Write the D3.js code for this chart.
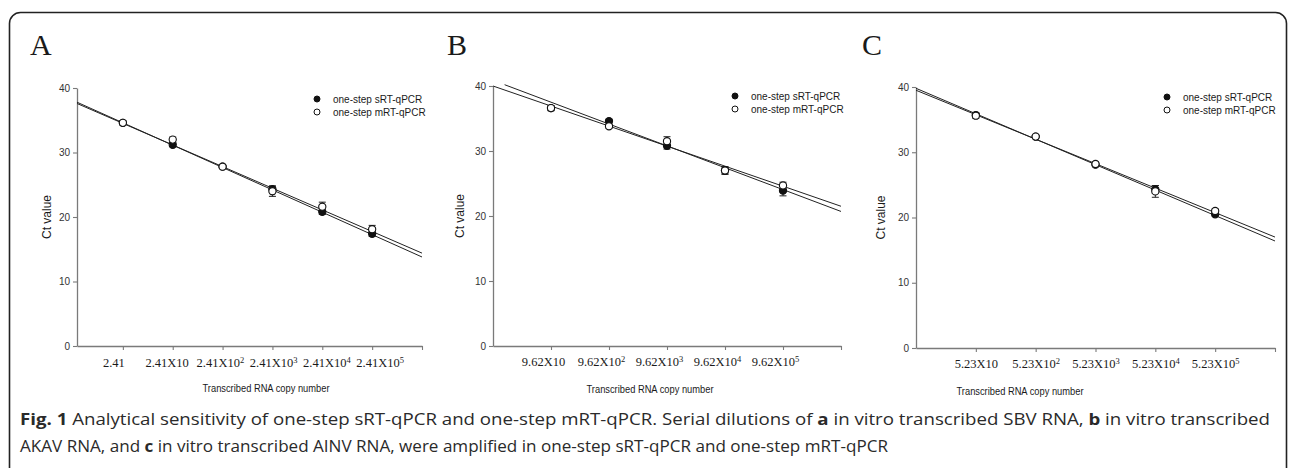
<!DOCTYPE html>
<html>
<head>
<meta charset="utf-8">
<script src="https://cdn.jsdelivr.net/npm/d3@7"></script>
<style>
  body { margin: 0; background: #fff; }
  svg { display: block; }
</style>
</head>
<body>
<svg id="fig" width="1290" height="468"></svg>
<script>
// ----------------------------------------------------------
// Data
// ----------------------------------------------------------

const legendLabels = ['one-step sRT-qPCR', 'one-step mRT-qPCR'];
const yTicks = [0, 10, 20, 30, 40];

// A – SBV RNA
const xLabelsA = ['2.41', '2.41X10', '2.41X10^2', '2.41X10^3', '2.41X10^4', '2.41X10^5'];
const sRtA = [34.6, 31.2, 27.8, 24.3, 20.8, 17.4];
const sRtErrA = [0.3, 0.3, 0.2, 0.5, 0.4, 0.4];
const mRtA = [34.6, 32.0, 27.8, 24.0, 21.6, 18.1];
const mRtErrA = [0.3, 0.4, 0.2, 0.8, 0.7, 0.6];
const sRtFitA = [[0.08, 37.8], [7, 13.8]];
const mRtFitA = [[0.08, 37.6], [7, 14.4]];

// B – AKAV RNA
const xLabelsB = ['9.62X10', '9.62X10^2', '9.62X10^3', '9.62X10^4', '9.62X10^5'];
const sRtB = [36.6, 34.6, 30.8, 27.0, 23.9];
const sRtErrB = [0.3, 0.3, 0.5, 0.5, 0.8];
const mRtB = [36.6, 33.8, 31.5, 27.0, 24.7];
const mRtErrB = [0.4, 0.3, 0.7, 0.6, 0.5];
const sRtFitB = [[0.2, 40.2], [6, 20.7]];
const mRtFitB = [[0, 40.0], [6, 21.5]];

// C – AINV RNA
const xLabelsC = ['5.23X10', '5.23X10^2', '5.23X10^3', '5.23X10^4', '5.23X10^5'];
const sRtC = [35.7, 32.4, 28.1, 24.3, 20.5];
const sRtErrC = [0.3, 0.2, 0.3, 0.6, 0.3];
const mRtC = [35.6, 32.4, 28.2, 24.0, 21.0];
const mRtErrC = [0.4, 0.2, 0.3, 0.9, 0.3];
const sRtFitC = [[0, 39.8], [6, 16.4]];
const mRtFitC = [[0, 39.5], [6, 17.0]];

const captionLine1 = [
  ['Fig. 1', true],
  [' Analytical sensitivity of one-step sRT-qPCR and one-step mRT-qPCR. Serial dilutions of ', false],
  ['a', true],
  [' in vitro transcribed SBV RNA, ', false],
  ['b', true],
  [' in vitro transcribed', false],
];
const captionLine2 = [
  ['AKAV RNA, and ', false],
  ['c', true],
  [' in vitro transcribed AINV RNA, were amplified in one-step sRT-qPCR and one-step mRT-qPCR', false],
];

// ----------------------------------------------------------
// Layout per panel
// ----------------------------------------------------------

const panels = [
  {
    letter: 'A', letterX: 30, labels: xLabelsA, xDomain: [0.08, 7], xRange: [77, 422],
    yRange: [346, 88], tickMax: 7, labelDx: -1, labelSpread: 3.4, labelY: 367,
    legend: [317, 99], yTitleX: 47, xTitleX: 266, xTitleY: 392,
    series: [
      { vals: sRtA, err: sRtErrA, fit: sRtFitA, filled: true },
      { vals: mRtA, err: mRtErrA, fit: mRtFitA, filled: false },
    ],
  },
  {
    letter: 'B', letterX: 447, labels: xLabelsB, xDomain: [0, 6], xRange: [493, 841],
    yRange: [346, 86], tickMax: 6, labelDx: -8, labelSpread: 0, labelY: 366,
    legend: [735, 96], yTitleX: 460, xTitleX: 650, xTitleY: 393,
    series: [
      { vals: sRtB, err: sRtErrB, fit: sRtFitB, filled: true },
      { vals: mRtB, err: mRtErrB, fit: mRtFitB, filled: false },
    ],
  },
  {
    letter: 'C', letterX: 862, labels: xLabelsC, xDomain: [0, 6], xRange: [916, 1275],
    yRange: [348, 87], tickMax: 6, labelDx: 0, labelSpread: 0, labelY: 368,
    legend: [1167, 97], yTitleX: 881, xTitleX: 1020, xTitleY: 395,
    series: [
      { vals: sRtC, err: sRtErrC, fit: sRtFitC, filled: true },
      { vals: mRtC, err: mRtErrC, fit: mRtFitC, filled: false },
    ],
  },
];

const AXIS_COLOR = '#7a7a7a';
const INK = '#1a1a1a';
const SANS = '"Liberation Sans", Arial, sans-serif';
const SERIF = '"Liberation Serif", "Times New Roman", serif';

const svg = d3.select('#fig');

// Frame round the figure (bottom edge runs off the picture)
svg.append('rect')
  .attr('x', 9.5).attr('y', 12.5)
  .attr('width', 1277).attr('height', 480)
  .attr('rx', 11)
  .attr('fill', 'none')
  .attr('stroke', '#222')
  .attr('stroke-width', 1.6);

// ----------------------------------------------------------
// Panels
// ----------------------------------------------------------

function writeLabel(sel, label) {
  // "2.41X10^3" -> base text + raised exponent
  const parts = label.split('^');
  sel.text(null);
  sel.append('tspan').text(parts[0]);
  if (parts[1]) {
    sel.append('tspan')
      .attr('dy', '-0.45em')
      .attr('font-size', '8.5px')
      .text(parts[1]);
  }
}

panels.forEach((p) => {
  const g = svg.append('g');

  const x = d3.scaleLinear().domain(p.xDomain).range(p.xRange);
  const y = d3.scaleLinear().domain([0, 40]).range(p.yRange);

  // Panel letter
  g.append('text')
    .attr('x', p.letterX).attr('y', 55)
    .attr('font-family', SERIF)
    .attr('font-size', '30px')
    .attr('fill', INK)
    .text(p.letter);

  // Y axis
  const yAxis = g.append('g')
    .attr('transform', 'translate(' + p.xRange[0] + ',0)')
    .call(d3.axisLeft(y).tickValues(yTicks).tickSize(4).tickSizeOuter(0).tickPadding(3))
    .attr('font-family', SANS);
  yAxis.select('.domain').attr('stroke', AXIS_COLOR).attr('stroke-width', 1.3);
  yAxis.selectAll('.tick line').attr('stroke', AXIS_COLOR).attr('stroke-width', 1.1);
  yAxis.selectAll('.tick text').attr('font-size', '10px').attr('fill', '#333');

  // X axis
  const xTickVals = d3.range(1, p.tickMax + 1);
  const xAxis = g.append('g')
    .attr('transform', 'translate(0,' + p.yRange[0] + ')')
    .call(d3.axisBottom(x).tickValues(xTickVals).tickSize(4).tickSizeOuter(0)
      .tickFormat((d) => p.labels[d - 1] || ''))
    .attr('font-family', SERIF);
  xAxis.select('.domain').attr('stroke', AXIS_COLOR).attr('stroke-width', 1.3);
  xAxis.selectAll('.tick line').attr('stroke', AXIS_COLOR).attr('stroke-width', 1.1);
  const nLab = p.labels.length;
  xAxis.selectAll('.tick text')
    .attr('font-size', '12.5px')
    .attr('fill', INK)
    .attr('dy', null)
    .attr('dx', (d) => p.labelDx + (d - 1 - (nLab - 1) / 2) * p.labelSpread)
    .attr('y', p.labelY - p.yRange[0])
    .each(function (d) {
      const lab = p.labels[d - 1];
      if (lab) writeLabel(d3.select(this), lab);
    });

  // Axis titles
  g.append('text')
    .attr('transform', 'translate(' + p.yTitleX + ',' + (p.yRange[0] + p.yRange[1]) / 2 + ') rotate(-90)')
    .attr('text-anchor', 'middle')
    .attr('dy', '0.35em')
    .attr('font-family', SANS)
    .attr('font-size', '12px')
    .attr('fill', INK)
    .text('Ct value');

  g.append('text')
    .attr('x', p.xTitleX).attr('y', p.xTitleY)
    .attr('text-anchor', 'middle')
    .attr('font-family', SANS)
    .attr('font-size', '10.5px')
    .attr('textLength', 127)
    .attr('lengthAdjust', 'spacingAndGlyphs')
    .attr('fill', INK)
    .text('Transcribed RNA copy number');

  // Regression lines
  const line = d3.line().x((d) => x(d[0])).y((d) => y(d[1]));
  p.series.forEach((s) => {
    g.append('path')
      .attr('d', line(s.fit))
      .attr('fill', 'none')
      .attr('stroke', '#222')
      .attr('stroke-width', 1);
  });

  // Error bars
  p.series.forEach((s) => {
    const eb = g.append('g').attr('stroke', '#222').attr('stroke-width', 1);
    s.vals.forEach((v, i) => {
      const cx = x(i + 1);
      const e = s.err[i];
      eb.append('line').attr('x1', cx).attr('x2', cx).attr('y1', y(v - e)).attr('y2', y(v + e));
      eb.append('line').attr('x1', cx - 3.5).attr('x2', cx + 3.5).attr('y1', y(v - e)).attr('y2', y(v - e));
      eb.append('line').attr('x1', cx - 3.5).attr('x2', cx + 3.5).attr('y1', y(v + e)).attr('y2', y(v + e));
    });
  });

  // Markers (open circles drawn on top)
  p.series.forEach((s) => {
    g.append('g').selectAll('circle')
      .data(s.vals)
      .enter()
      .append('circle')
      .attr('cx', (d, i) => x(i + 1))
      .attr('cy', (d) => y(d))
      .attr('r', 3.6)
      .attr('fill', s.filled ? '#111' : '#fff')
      .attr('stroke', '#111')
      .attr('stroke-width', 1.1);
  });

  // Legend
  legendLabels.forEach((lab, i) => {
    const ly = p.legend[1] + i * 13;
    g.append('circle')
      .attr('cx', p.legend[0]).attr('cy', ly).attr('r', 3)
      .attr('fill', i === 0 ? '#111' : '#fff')
      .attr('stroke', '#111').attr('stroke-width', 1);
    g.append('text')
      .attr('x', p.legend[0] + 16).attr('y', ly)
      .attr('dy', '0.35em')
      .attr('font-family', SANS)
      .attr('font-size', '10px')
      .attr('fill', INK)
      .text(lab);
  });
});

// ----------------------------------------------------------
// Caption
// ----------------------------------------------------------

function writeCaption(parts, yPos, width) {
  const t = svg.append('text')
    .attr('x', 20).attr('y', yPos)
    .attr('font-family', '"Open Sans", "Noto Sans", sans-serif')
    .attr('font-size', '16px')
    .attr('fill', '#2a2a2a')
    .attr('textLength', width)
    .attr('lengthAdjust', 'spacingAndGlyphs')
    .attr('xml:space', 'preserve');
  parts.forEach(([txt, bold]) => {
    t.append('tspan').attr('font-weight', bold ? 'bold' : 'normal').text(txt);
  });
  return t;
}

writeCaption(captionLine1, 425, 1250);
writeCaption(captionLine2, 452, 868);
</script>
</body>
</html>
